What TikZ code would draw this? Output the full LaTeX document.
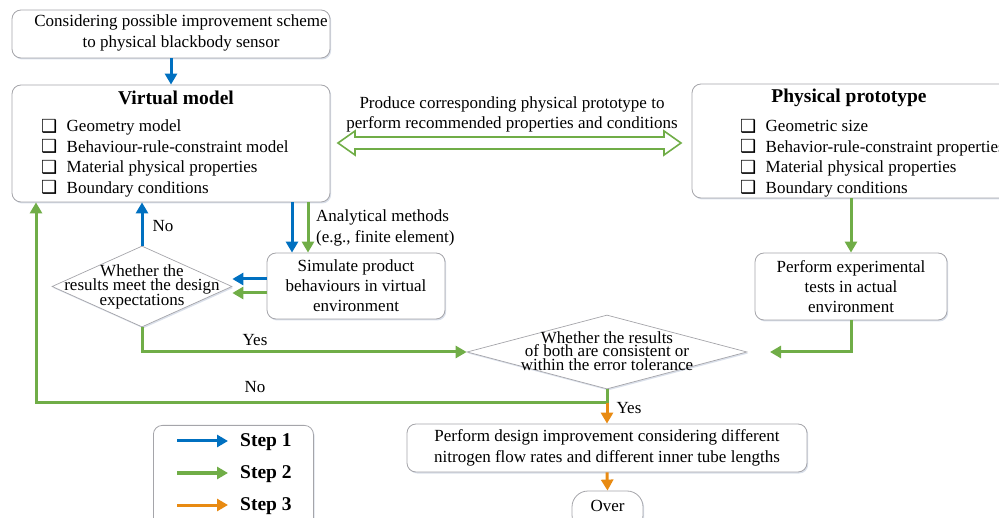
\documentclass[tikz,border=0pt]{standalone}
\usepackage{fontspec}
\setmainfont{Liberation Serif}
\newfontfamily\dejavu{DejaVu Sans}
\usetikzlibrary{arrows.meta,shapes.geometric,shadows,calc}
\definecolor{sblue}{RGB}{0,112,192}
\definecolor{sgreen}{RGB}{112,173,71}
\definecolor{sorange}{RGB}{232,138,18}
\definecolor{bordergray}{RGB}{165,165,170}
\definecolor{shadowc}{RGB}{150,165,195}
\newcommand\chk{\makebox[25.5pt][l]{\raisebox{-0.5pt}{\dejavu\fontsize{18}{18}\selectfont\char"2751}}}
\begin{document}
\begin{tikzpicture}[x=1pt,y=-1pt,
  font=\fontsize{17}{21}\selectfont,
  box/.style={draw=bordergray, line width=0.8pt, rounded corners=9pt, fill=white,
    drop shadow={shadow xshift=1.2pt, shadow yshift=-1.5pt, opacity=0.35, fill=shadowc}},
  dia/.style={draw=bordergray, line width=0.7pt, shape=diamond, fill=white, inner sep=0pt,
    drop shadow={shadow xshift=1.2pt, shadow yshift=-1.5pt, opacity=0.35, fill=shadowc}},
  arr/.style={line width=3pt, -{Triangle[length=11pt,width=12pt]}},
  lbl/.style={inner sep=0pt},
  ttl/.style={inner sep=0pt, font=\fontsize{19.5}{22}\selectfont\bfseries},
  items/.style={inner sep=0pt, align=left, anchor=west, font=\fontsize{17}{20.4}\selectfont},
  dtext/.style={inner sep=0pt, align=center, font=\fontsize{17}{13.8}\selectfont},
]
\useasboundingbox (0,0) rectangle (999,518);
\clip (0,0) rectangle (999,518);

% boxes
\node[box, minimum width=318pt, minimum height=48pt] (top) at (171,34) {};
\node[lbl, align=center] (toptxt) at (181,33) {Considering possible improvement scheme\\to physical blackbody sensor};

\node[box, minimum width=318pt, minimum height=117pt] (vm) at (171,143.5) {};
\node[ttl] (vmt) at (176,98) {Virtual model};
\node[items] (vml) at (41,158) {\chk Geometry model\\ \chk Behaviour-rule-constraint model\\ \chk Material physical properties\\ \chk Boundary conditions};

\node[box, minimum width=318pt, minimum height=114pt] (pp) at (851,141) {};
\node[ttl] (ppt) at (849,98) {Physical prototype};
\node[items] (ppl) at (740,158) {\chk Geometric size\\ \chk Behavior-rule-constraint properties\\ \chk Material physical properties\\ \chk Boundary conditions};

% double arrow
\draw[sgreen, line width=1.6pt, fill=white, line join=miter]
  (338,143) -- (355,131) -- (355,137) -- (664,137) -- (664,131) -- (681,143)
  -- (664,155) -- (664,149) -- (355,149) -- (355,155) -- cycle;
\node[lbl, align=center, font=\fontsize{17}{20}\selectfont] (prod) at (512,114) {Produce corresponding physical prototype to\\perform recommended properties and conditions};

\node[box, minimum width=178pt, minimum height=66pt, align=center, font=\fontsize{17}{20}\selectfont] (sim) at (356,286) {Simulate product\\behaviours in virtual\\environment};
\node[box, minimum width=192pt, minimum height=67pt, align=center, font=\fontsize{17}{20}\selectfont] (exp) at (851,286.5) {Perform experimental\\tests in actual\\environment};

\node[dia, minimum width=180pt, minimum height=81pt] (d1) at (142,286.5) {};
\node[dtext] (d1t) at (142,287) {Whether the\\results meet the design\\expectations};

\node[dia, minimum width=280pt, minimum height=74pt] (d2) at (607,352) {};
\node[dtext, font=\fontsize{17}{13.5}\selectfont] (d2t) at (607,351) {Whether the results\\of both are consistent or\\within the error tolerance};

\node[box, minimum width=400pt, minimum height=48pt, align=center, font=\fontsize{17}{20.5}\selectfont] (imp) at (607,448) {Perform design improvement considering different\\nitrogen flow rates and different inner tube lengths};

\node[box, rounded corners=16pt, minimum width=71pt, minimum height=40pt] (over) at (607.5,511) {};
\node[lbl] (overt) at (607.5,506) {Over};

\node[box, minimum width=160pt, minimum height=110pt, anchor=north west] (leg) at (153,425) {};

% connectors
\coordinate (bx) at (292,0);
\coordinate (gx) at (308,0);
\draw[arr,sblue] (top.south) -- (vm.north);
\draw[arr,sblue] (vm.south -| bx) -- (sim.north -| bx);
\draw[arr,sgreen] (vm.south -| gx) -- (sim.north -| gx);
\node[lbl, align=left, anchor=west] (anl) at (316,228) {Analytical methods\\(e.g., finite element)};

\draw[arr,sblue] ([yshift=7pt]sim.west) -- ([yshift=7pt]sim.west -| d1.east);
\draw[arr,sgreen] ([yshift=-7pt]sim.west) -- ([yshift=-7pt]sim.west -| d1.east);

\draw[arr,sblue] (d1.north) -- (d1.north |- vm.south);
\node[lbl] (no1) at (163,226) {No};

\draw[arr,sgreen] (d1.south) |- (d2.west);
\node[lbl] (yes1) at (255,340) {Yes};

\draw[arr,sgreen] (pp.south -| exp.north) -- (exp.north);
\coordinate (ein) at (770,352);
\draw[arr,sgreen] (exp.south) |- (ein);

\coordinate (yj) at (607,403);
\coordinate (nl) at (36,403);
\draw[arr,sgreen] (d2.south) -- (yj) -- (nl) -- (nl |- vm.south);
\node[lbl] (no2) at (255,387) {No};

\draw[arr,sorange] (yj) -- (imp.north);
\node[lbl] (yes2) at (629,408) {Yes};
\draw[arr,sorange] (imp.south) -- (over.north);

% legend
\coordinate (l1s) at (177,441); \coordinate (l1e) at (228,441);
\coordinate (l2s) at (177,473); \coordinate (l2e) at (228,473);
\coordinate (l3s) at (177,505); \coordinate (l3e) at (228,505);
\draw[arr,sblue] (l1s) -- (l1e);
\draw[arr,sgreen] (l2s) -- (l2e);
\draw[arr,sorange] (l3s) -- (l3e);
\node[ttl, anchor=west] (s1) at (240,442) {Step 1};
\node[ttl, anchor=west] (s2) at (240,474) {Step 2};
\node[ttl, anchor=west] (s3) at (240,506) {Step 3};
\end{tikzpicture}
\end{document}
